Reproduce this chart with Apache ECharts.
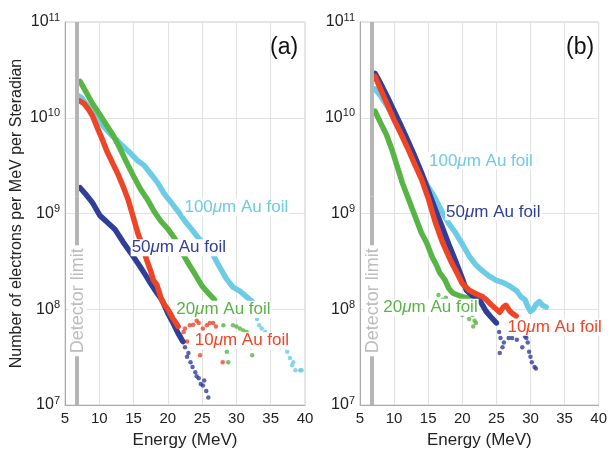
<!DOCTYPE html>
<html>
<head>
<meta charset="utf-8">
<script src="https://cdn.jsdelivr.net/npm/echarts@6/dist/echarts.min.js"></script>
<style>
  html, body { margin: 0; padding: 0; background: #fff; }
  #chart { width: 610px; height: 454px; }
</style>
</head>
<body>
<div id="chart"></div>
<script>
// readings are [energy MeV, electrons per MeV per sr]
// panel (a)
const cyanA = [[6.9,1.7e10],[7.5,1.6e10],[8.5,1.26e10],[9.5,1.0e10],[10.5,8.3e9],[11.5,6.9e9],[12.5,5.9e9],[13.5,5.0e9],[14.5,4.3e9],[15.5,3.6e9],[16.5,3.2e9],[17.5,2.6e9],[18.5,2.1e9],[19.5,1.6e9],[20.5,1.3e9],[21.5,1.05e9],[22.5,8.3e8],[23.5,6.8e8],[24.5,5.5e8],[25.5,4.6e8],[26.5,3.8e8],[27.5,2.8e8],[28.5,2.1e8],[29.5,1.7e8],[30.5,1.55e8],[31.5,1.35e8],[32.5,1.17e8]];
const cyanTailA = [[33.0,7.9e7],[33.3,6.8e7],[33.7,6.3e7],[34.2,5.8e7],[35.0,5.2e7],[35.6,4.6e7],[36.4,4.0e7],[36.8,4.3e7],[37.4,3.6e7],[37.8,3.1e7],[38.1,2.6e7],[38.3,2.8e7],[38.6,2.3e7],[39.3,2.3e7],[39.5,2.3e7]];
const greenA = [[7.2,2.4e10],[8,1.9e10],[9,1.41e10],[10,1.1e10],[11,8.5e9],[12,6.6e9],[13,4.8e9],[14,3.4e9],[15,2.45e9],[16,1.8e9],[17,1.41e9],[18,1.05e9],[19,8.3e8],[20,6.9e8],[21,5.5e8],[22,4.0e8],[23,3.0e8],[24,2.3e8],[25,1.74e8],[26,1.45e8],[26.8,1.26e8]];
const greenTailA = [[27.3,8.9e7],[27.6,8.7e7],[28.1,6.8e7],[28.6,3.6e7],[28.8,2.8e7],[29.5,6.8e7],[30,6.6e7],[30.5,6.3e7],[31,6.0e7],[31.5,5.8e7],[31.8,5.0e7],[32.1,4.0e7],[32.3,3.3e7]];
const blueA = [[7.2,1.86e9],[8,1.6e9],[9,1.3e9],[10.1,9.5e8],[11,8.3e8],[12.3,6.8e8],[13.5,5.0e8],[14.8,3.7e8],[15.8,2.9e8],[16.7,2.3e8],[17.5,1.86e8],[18.4,1.48e8],[19.1,1.26e8],[20,9.1e7],[20.8,7.1e7],[21.5,5.6e7],[22.2,4.6e7]];
const blueTailA = [[22.5,4.0e7],[22.8,3.2e7],[23.0,3.5e7],[23.3,2.8e7],[23.6,2.5e7],[24.0,2.2e7],[24.2,2.0e7],[24.5,1.9e7],[24.8,1.66e7],[25.1,1.6e7],[25.3,1.8e7],[25.6,1.4e7],[25.9,1.2e7]];
const redA = [[7.2,1.5e10],[7.8,1.4e10],[8.5,1.2e10],[9,1.05e10],[9.8,7.6e9],[10.5,5.8e9],[11.1,4.5e9],[12,3.3e9],[12.7,2.6e9],[13.5,1.9e9],[14.2,1.4e9],[15,8.9e8],[15.6,6.3e8],[16.2,4.8e8],[16.9,3.3e8],[17.5,2.5e8],[17.9,2.0e8],[18.4,1.8e8],[19,1.3e8],[19.5,1.12e8],[20,1.0e8],[20.8,7.9e7],[21.5,6.6e7]];
const redTailA = [[21.8,5.4e7],[22.3,5.8e7],[22.5,6.3e7],[22.8,4.6e7],[23.2,6.8e7],[23.7,6.9e7],[24.2,7.6e7],[24.5,7.2e7],[24.7,3.3e7],[25.0,4.3e7],[25.1,6.3e7],[25.7,6.8e7],[26.1,7.2e7],[26.6,7.2e7],[27.0,6.6e7],[28.0,2.8e7]];

// panel (b)
const cyanB = [[7.2,2.0e10],[8,1.7e10],[9,1.32e10],[10,1.0e10],[11,7.2e9],[12,5.2e9],[13,3.55e9],[14,2.5e9],[15,1.9e9],[16,1.45e9],[17,1.05e9],[18,7.9e8],[19,6.3e8],[20,4.8e8],[21,3.6e8],[22,2.9e8],[23,2.5e8],[24,2.2e8],[25,2.0e8],[26,1.9e8],[27,1.74e8],[28,1.55e8],[28.6,1.35e8],[29.2,1.26e8],[29.6,1.07e8],[30,9.5e7],[30.4,1.0e8],[30.8,1.12e8],[31.3,1.2e8],[31.8,1.1e8],[32.3,1.05e8]];
const greenB = [[7.2,1.17e10],[8,8.9e9],[8.9,6.6e9],[9.7,4.6e9],[10.4,3.2e9],[11.2,2.1e9],[11.9,1.55e9],[12.5,1.2e9],[13.3,8.5e8],[14,6.3e8],[14.8,4.9e8],[15.6,3.5e8],[16.2,2.9e8],[16.7,2.4e8],[17.1,2.2e8],[17.5,2.0e8],[18,1.66e8],[18.6,1.48e8],[19.3,1.41e8],[20,1.35e8],[20.6,1.32e8],[21.5,1.17e8]];
const greenTailB = [[16.5,1.41e8],[17.1,1.26e8],[17.6,1.32e8],[18.0,1.12e8],[20.0,8.7e7],[20.5,9.5e7],[21.0,7.9e7],[21.5,8.7e7],[21.6,6.6e7],[21.8,7.6e7],[22.0,7.2e7]];
const blueB = [[7.2,2.9e10],[8,2.3e10],[9,1.66e10],[10,1.17e10],[11,8.3e9],[12,5.8e9],[13,4.0e9],[14,2.7e9],[15,1.74e9],[16,1.12e9],[17,7.4e8],[18,4.8e8],[19,3.2e8],[20,2.1e8],[20.6,1.58e8],[21.5,1.38e8],[22.5,1.26e8],[23.5,9.5e7],[24.2,8.3e7],[25,7.2e7]];
const blueTailB = [[25.4,5.8e7],[25.5,3.5e7],[25.6,5.0e7],[25.9,4.0e7],[26.1,4.5e7],[26.8,5.0e7],[27.3,5.0e7],[28.0,4.8e7],[28.8,4.0e7],[29.2,5.2e7],[29.4,5.0e7],[29.6,4.5e7],[29.8,3.6e7],[30.0,3.2e7],[30.2,2.8e7],[30.6,2.5e7],[30.8,2.4e7]];
const redB = [[7.2,2.7e10],[8,2.0e10],[9,1.38e10],[10,9.5e9],[11,6.8e9],[12,4.8e9],[13,3.3e9],[14,2.3e9],[15,1.45e9],[16,8.3e8],[17,5.2e8],[17.7,4.0e8],[18.5,3.0e8],[19.1,2.5e8],[20,1.86e8],[21,1.58e8],[22,1.45e8],[23,1.35e8],[23.5,1.26e8],[24.2,1.12e8],[25,1.0e8],[25.5,9.3e7],[26,1.05e8],[26.4,1.1e8],[27,9.5e7],[27.3,9.1e7],[27.9,8.5e7]];

const xTicks = [5, 10, 15, 20, 25, 30, 35, 40];
const detectorE = 6.7;

const CYAN = '#6ccbe5', GREEN = '#58b444', BLUE = '#2f3e98', RED = '#ee4526';
const FONT = '"Liberation Sans", Arial, Helvetica, sans-serif';

function lineSeries(idx, data, color) {
  return {
    type: 'line', xAxisIndex: idx, yAxisIndex: idx, data: data,
    showSymbol: false, symbol: 'none', silent: true,
    lineStyle: { color: color, width: 5.5, join: 'round', cap: 'round' }
  };
}
function tailSeries(idx, data, color) {
  return {
    type: 'scatter', xAxisIndex: idx, yAxisIndex: idx, data: data,
    symbolSize: 4.5, silent: true, itemStyle: { color: color }
  };
}
function foilLabel(idx, thick, color, e, v) {
  return {
    type: 'scatter', xAxisIndex: idx, yAxisIndex: idx, data: [], silent: true, z: 5,
    markPoint: {
      symbol: 'circle', symbolSize: 1, silent: true,
      itemStyle: { color: 'rgba(0,0,0,0)' },
      label: {
        show: true, position: 'right', distance: 0,
        formatter: thick + '{i|\u03bc}m Au foil',
        color: color, fontSize: 17, fontFamily: FONT,
        backgroundColor: '#fff', padding: [0, 1],
        rich: { i: { fontStyle: 'italic', fontSize: 17, color: color, fontFamily: FONT } }
      },
      data: [{ coord: [e, v] }]
    }
  };
}
function detector(idx) {
  return {
    type: 'line', xAxisIndex: idx, yAxisIndex: idx, data: [], silent: true, z: 1,
    markLine: {
      silent: true, symbol: ['none', 'none'],
      lineStyle: { color: '#b5b5b5', width: 4, type: 'solid' },
      label: { show: false },
      data: [
        [{ coord: [detectorE, 1e7], label: {
            show: true, position: 'middle', distance: -10, formatter: 'Detector limit',
            color: '#bdbdbd', fontSize: 18, fontFamily: FONT,
            backgroundColor: '#fff', padding: [0, 3] } },
         { coord: [detectorE, 1.5e9] }],
        [{ coord: [detectorE, 1.5e9] }, { coord: [detectorE, 1e11] }]
      ]
    }
  };
}

function xAxis(idx) {
  return {
    type: 'value', gridIndex: idx, min: xTicks[0], max: xTicks[xTicks.length - 1], interval: 5,
    name: 'Energy (MeV)', nameLocation: 'middle', nameGap: 27,
    nameTextStyle: { fontSize: 17, color: '#222', fontFamily: FONT },
    axisLine: { lineStyle: { color: '#aaa' } },
    axisTick: { show: false },
    axisLabel: { fontSize: 15, color: '#222', margin: 6, fontFamily: FONT },
    splitLine: { show: true, lineStyle: { color: '#e2e2e2' } }
  };
}
function yAxis(idx) {
  return {
    type: 'log', logBase: 10, gridIndex: idx, min: 1e7, max: 1e11,
    name: idx === 0 ? 'Number of electrons per MeV per Steradian' : '',
    nameLocation: 'middle', nameGap: 40, nameRotate: 90,
    nameTextStyle: { fontSize: 16, color: '#222', fontFamily: FONT },
    axisLine: { show: true, lineStyle: { color: '#aaa' } },
    axisTick: { show: false },
    axisLabel: {
      margin: 5, color: '#222', fontFamily: FONT,
      formatter: function (v) { return '10{s|' + Math.round(Math.log10(v)) + '}'; },
      rich: { s: { fontSize: 11, padding: [0, 0, 9, 0], color: '#222', fontFamily: FONT } },
      fontSize: 16
    },
    splitLine: { show: true, lineStyle: { color: '#e2e2e2' } }
  };
}

const chart = echarts.init(document.getElementById('chart'));
chart.setOption({
  animation: false,
  backgroundColor: '#fff',
  textStyle: { fontFamily: FONT },
  grid: [
    { left: 65, top: 22, width: 240, height: 389, show: true, borderColor: '#cfcfcf', borderWidth: 1 },
    { left: 360, top: 22, width: 240, height: 389, show: true, borderColor: '#cfcfcf', borderWidth: 1 }
  ],
  xAxis: [xAxis(0), xAxis(1)],
  yAxis: [yAxis(0), yAxis(1)],
  graphic: [
    { type: 'text', left: 270, top: 36, style: { text: '(a)', fontSize: 23, fill: '#111', fontFamily: FONT } },
    { type: 'text', left: 566, top: 36, style: { text: '(b)', fontSize: 23, fill: '#111', fontFamily: FONT } }
  ],
  series: [
    detector(0),
    lineSeries(0, cyanA, CYAN), tailSeries(0, cyanTailA, CYAN),
    lineSeries(0, greenA, GREEN), tailSeries(0, greenTailA, GREEN),
    lineSeries(0, blueA, BLUE), tailSeries(0, blueTailA, BLUE),
    lineSeries(0, redA, RED), tailSeries(0, redTailA, RED),
    foilLabel(0, '100', CYAN, 22.2, 1.17e9),
    foilLabel(0, '50', BLUE, 14.5, 4.4e8),
    foilLabel(0, '20', GREEN, 21.0, 1.0e8),
    foilLabel(0, '10', RED, 23.7, 4.7e7),

    detector(1),
    lineSeries(1, cyanB, CYAN),
    lineSeries(1, greenB, GREEN), tailSeries(1, greenTailB, GREEN),
    lineSeries(1, blueB, BLUE), tailSeries(1, blueTailB, BLUE),
    lineSeries(1, redB, RED),
    foilLabel(1, '100', CYAN, 14.9, 3.55e9),
    foilLabel(1, '50', BLUE, 17.4, 1.04e9),
    foilLabel(1, '20', GREEN, 8.2, 1.05e8),
    foilLabel(1, '10', RED, 26.4, 6.5e7)
  ]
});
window.addEventListener('resize', function () { chart.resize(); });
</script>
</body>
</html>
